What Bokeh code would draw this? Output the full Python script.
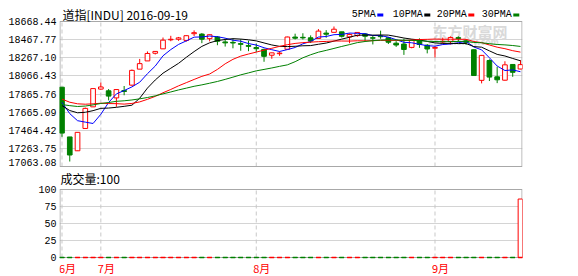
from bokeh.plotting import figure
from bokeh.models import Range1d, FixedTicker, ColumnDataSource
from bokeh.layouts import column
from bokeh.embed import file_html
from bokeh.resources import INLINE
from bokeh.core.properties import value

# ---------------- data ----------------
dates = [
    "2016-06-24", "2016-06-27", "2016-06-28", "2016-06-29", "2016-06-30",
    "2016-07-01", "2016-07-05", "2016-07-06", "2016-07-07", "2016-07-08",
    "2016-07-11", "2016-07-12", "2016-07-13", "2016-07-14", "2016-07-15",
    "2016-07-18", "2016-07-19", "2016-07-20", "2016-07-21", "2016-07-22",
    "2016-07-25", "2016-07-26", "2016-07-27", "2016-07-28", "2016-07-29",
    "2016-08-01", "2016-08-02", "2016-08-03", "2016-08-04", "2016-08-05",
    "2016-08-08", "2016-08-09", "2016-08-10", "2016-08-11", "2016-08-12",
    "2016-08-15", "2016-08-16", "2016-08-17", "2016-08-18", "2016-08-19",
    "2016-08-22", "2016-08-23", "2016-08-24", "2016-08-25", "2016-08-26",
    "2016-08-29", "2016-08-30", "2016-08-31", "2016-09-01", "2016-09-02",
    "2016-09-06", "2016-09-07", "2016-09-08", "2016-09-09", "2016-09-12",
    "2016-09-13", "2016-09-14", "2016-09-15", "2016-09-16", "2016-09-19",
]
open_ = [
    17946.63, 17355.21, 17190.51, 17456.02, 17712.76,
    17924.24, 17904.00, 17819.58, 17906.00, 17971.00,
    18161.37, 18259.12, 18350.39, 18402.57, 18510.00,
    18517.00, 18503.12, 18582.70, 18578.00, 18524.15,
    18543.00, 18485.00, 18480.00, 18465.00, 18442.00,
    18418.00, 18396.00, 18327.00, 18345.00, 18398.00,
    18543.00, 18540.00, 18534.00, 18526.00, 18590.00,
    18599.00, 18605.00, 18545.00, 18560.00, 18580.00,
    18535.00, 18555.00, 18535.00, 18470.00, 18460.00,
    18420.00, 18510.00, 18446.00, 18410.00, 18485.00,
    18492.00, 18536.00, 18498.00, 18392.00, 18028.00,
    18264.00, 18070.00, 18030.00, 18217.00, 18163.00,
]
high = [
    17946.63, 17355.21, 17409.72, 17704.51, 17930.61,
    18002.38, 17925.00, 17918.62, 17961.06, 18157.45,
    18283.04, 18371.95, 18375.40, 18537.30, 18557.80,
    18544.00, 18562.53, 18622.01, 18590.00, 18571.30,
    18555.00, 18526.00, 18523.00, 18517.00, 18500.00,
    18466.00, 18404.00, 18357.00, 18373.00, 18548.00,
    18583.00, 18588.00, 18563.00, 18638.00, 18625.00,
    18668.44, 18605.00, 18586.00, 18601.00, 18590.00,
    18565.00, 18619.00, 18544.00, 18494.00, 18524.00,
    18514.00, 18527.00, 18460.00, 18430.00, 18536.00,
    18550.00, 18552.00, 18518.00, 18395.00, 18330.00,
    18278.00, 18190.00, 18255.00, 18217.00, 18268.00,
]
low = [
    17356.34, 17063.08, 17190.51, 17456.02, 17711.80,
    17916.91, 17790.00, 17713.53, 17850.77, 17964.00,
    18161.37, 18259.12, 18335.58, 18402.57, 18493.30,
    18498.00, 18488.61, 18555.65, 18470.00, 18491.59,
    18446.00, 18430.00, 18409.00, 18380.00, 18375.00,
    18367.00, 18249.00, 18285.00, 18320.00, 18396.00,
    18514.00, 18513.00, 18472.00, 18526.00, 18535.00,
    18599.00, 18537.00, 18469.00, 18545.00, 18495.00,
    18455.00, 18522.00, 18460.00, 18426.00, 18331.00,
    18409.00, 18415.00, 18349.00, 18300.00, 18470.00,
    18454.00, 18485.00, 18452.00, 18085.00, 17992.00,
    18020.00, 17995.00, 18025.00, 18070.00, 18160.00,
]
close = [
    17400.75, 17140.24, 17409.72, 17694.68, 17929.99,
    17949.37, 17840.62, 17918.62, 17895.88, 18146.74,
    18226.93, 18347.67, 18372.12, 18506.41, 18516.55,
    18533.05, 18559.01, 18595.03, 18517.23, 18570.85,
    18493.06, 18473.75, 18472.17, 18456.35, 18432.24,
    18404.51, 18313.77, 18355.00, 18352.05, 18543.53,
    18529.29, 18533.05, 18495.66, 18613.52, 18576.47,
    18636.05, 18552.02, 18573.94, 18597.70, 18552.57,
    18529.42, 18547.30, 18481.48, 18448.41, 18395.40,
    18502.99, 18454.30, 18400.88, 18419.30, 18491.96,
    18538.12, 18526.14, 18479.91, 18085.45, 18325.07,
    18066.75, 18034.77, 18212.48, 18123.80, 18215.00,
]
volume = [
    0, 0, 0, 0, 0, 0, 0, 0, 0, 0,
    0, 0, 0, 0, 0, 0, 0, 0, 0, 0,
    0, 0, 0, 0, 0, 0, 0, 0, 0, 0,
    0, 0, 0, 0, 0, 0, 0, 0, 0, 0,
    0, 0, 0, 0, 0, 0, 0, 0, 0, 0,
    0, 0, 0, 0, 0, 0, 0, 0, 0, 86,
]
# closes of the 29 sessions before the first candle (feed the moving averages)
prior_close = [
    17535.32, 17710.71, 17529.98, 17526.62, 17435.40, 17500.94, 17492.93,
    17706.05, 17851.51, 17828.29, 17873.22, 17787.20, 17789.67, 17838.56,
    17807.06, 17920.33, 17938.28, 18005.05, 17985.19, 17865.34, 17732.48,
    17674.82, 17640.17, 17733.10, 17675.16, 17804.87, 17829.73, 17780.83,
    18011.07,
]
ma_periods = [5, 10, 20, 30]
ma_names = ["5PMA", "10PMA", "20PMA", "30PMA"]
ma_colors = ["#0000FF", "#000000", "#FF0000", "#008000"]
price_tick_labels = ["17063.08", "17263.75", "17464.42", "17665.09", "17865.76",
                     "18066.43", "18267.10", "18467.77", "18668.44"]
volume_ticks = [0, 25, 50, 75, 100]
title_text = "道指[INDU] 2016-09-19"
volume_title = "成交量:100"
watermark = "东方财富网"
watermark_sub = "eastmoney.com"

UP = "#FF0000"
DOWN = "#008000"

# ---------------- derived ----------------
n = len(close)
idx = list(range(n))
all_close = prior_close + close
ma = []
for per in ma_periods:
    vals = []
    for i in range(n):
        j = len(prior_close) + i
        w = all_close[j - per + 1:j + 1]
        vals.append(sum(w) / per)
    ma.append(vals)

up = [c >= o for o, c in zip(open_, close)]
colors = [UP if u else DOWN for u in up]
fills = ["#FFFFFF" if u else DOWN for u in up]
tops = [max(o, c) for o, c in zip(open_, close)]
bots = [min(o, c) for o, c in zip(open_, close)]

month_idx, month_text = [], []
prev = None
for i, d in enumerate(dates):
    m = d[5:7]
    if m != prev:
        month_idx.append(i)
        month_text.append(f"{int(m)}月")
        prev = m

BAR_W = 0.6
src = ColumnDataSource(dict(x=idx, o=open_, h=high, l=low, c=close,
                            top=tops, bot=bots, color=colors, fill=fills,
                            vol=volume, zero=[0] * n,
                            xl=[i - BAR_W / 2 for i in idx],
                            xr=[i + BAR_W / 2 for i in idx]))

# ---------------- layout (pixels) ----------------
W = 578
LEFT, RIGHT = 59, 56
FRAME_W = W - LEFT - RIGHT
H1 = 170                      # top figure: canvas rows 0..170
P_TOP, P_BOT = 21, 166        # price box
H2 = 106                      # bottom figure: canvas rows 170..276
V_TOP, V_BOT = 189, 257       # volume box (canvas rows)

GRID_H = "#D4D4D4"
GRID_V = "#C8C8C8"
BORDER = "#A8A8A8"
TXT_FONT = value("Noto Sans CJK SC")
MONO = value("Liberation Mono")

x_start, x_end = -0.32, n - 1 + 0.26
sx = FRAME_W / (x_end - x_start)
def cx(px_):   # canvas x -> data x
    return x_start + (px_ - LEFT) / sx

lo = float(price_tick_labels[0])
hi = float(price_tick_labels[-1])
pad = (hi - lo) * 5.0 / (P_BOT - P_TOP - 10)
y0, y1 = lo - pad, hi + pad
ppx = (y1 - y0) / (P_BOT - P_TOP)
def cy1(py):   # canvas y -> price
    return y0 + (P_BOT - py) * ppx

vpx = (volume_ticks[-1] - volume_ticks[0]) / (V_BOT - V_TOP)
def cy2(py):   # canvas y -> volume units
    return volume_ticks[0] + (V_BOT - py) * vpx

x_range = Range1d(x_start, x_end)

def style(p):
    p.outline_line_color = None
    p.background_fill_color = "#FFFFFF"
    p.border_fill_color = "#FFFFFF"
    p.xaxis.visible = False
    p.xgrid.visible = False
    p.ygrid.grid_line_color = GRID_H
    ax = p.yaxis[0]
    ax.axis_line_color = None
    ax.major_tick_line_color = None
    ax.minor_tick_line_color = None
    ax.major_tick_out = 0
    ax.major_tick_in = 0
    ax.major_label_standoff = 3
    ax.major_label_text_font = "Liberation Mono"
    ax.major_label_text_font_size = "10px"
    ax.major_label_text_color = "#000000"

def box(p, bottom, top):
    hx = 0.5 / sx
    k = len(month_idx)
    p.segment(x0=month_idx, y0=[bottom] * k, x1=month_idx, y1=[top] * k,
              line_color=GRID_V, line_dash="4 3", line_width=1)
    p.quad(left=[x_start + hx], right=[x_end - hx], bottom=[bottom], top=[top],
           fill_color=None, line_color=BORDER, line_width=1)

# ---------------- main panel ----------------
p1 = figure(width=W, height=H1, x_range=x_range,
            y_range=Range1d(cy1(H1), cy1(0)),
            output_backend="svg", toolbar_location=None,
            min_border_left=LEFT, min_border_right=RIGHT,
            min_border_top=0, min_border_bottom=0)
style(p1)
grid_pos = [y0 + k * (y1 - y0) / 8 for k in range(9)]
label_pos = list(grid_pos)
label_pos[0] = y0 + 4.3 * ppx
p1.ygrid.ticker = FixedTicker(ticks=grid_pos)
p1.yaxis.ticker = FixedTicker(ticks=label_pos)
p1.yaxis.major_label_overrides = {pos: t for pos, t in zip(label_pos, price_tick_labels)}

# watermark (behind everything)
p1.text(x=[cx(432)], y=[cy1(31)], text=[watermark], text_color="#D9D9D9",
        text_font=TXT_FONT, text_font_size="15px", text_font_style="bold",
        text_baseline="middle")
p1.text(x=[cx(428)], y=[cy1(41.5)], text=[watermark_sub], text_color="#DCDCDC",
        text_font=value("DejaVu Sans"), text_font_size="8px", text_font_style="bold",
        text_baseline="middle")

box(p1, y0, y1)

p1.segment(x0="x", y0="l", x1="x", y1="h", line_color="color", line_width=1, source=src)
p1.vbar(x="x", width=BAR_W, top="top", bottom="bot", fill_color="fill",
        line_color="color", line_width=1, source=src)
for vals, col in zip(ma, ma_colors):
    p1.line(idx, vals, line_color=col, line_width=1)

# title
p1.text(x=[cx(62)], y=[cy1(13.5)], text=[title_text], text_font=TXT_FONT,
        text_font_size="12px", text_color="#000000", text_baseline="middle")

# legend: name followed by a small colour bar
leg_left = [351.3, 392.3, 436.3, 481.3]
for name, col, lx in zip(ma_names, ma_colors, leg_left):
    p1.text(x=[cx(lx)], y=[cy1(14)], text=[name], text_font=MONO,
            text_font_size="10px", text_color="#000000", text_baseline="middle")
    mx = lx + len(name) * 6 + 4.5
    p1.rect(x=[cx(mx)], y=[cy1(14.5)], width=6, height=3, width_units="screen",
            height_units="screen", fill_color=col, line_color=None)

# ---------------- volume panel ----------------
p2 = figure(width=W, height=H2, x_range=x_range,
            y_range=Range1d(cy2(H1 + H2), cy2(H1)),
            output_backend="svg", toolbar_location=None,
            min_border_left=LEFT, min_border_right=RIGHT,
            min_border_top=0, min_border_bottom=0)
style(p2)
p2.ygrid.ticker = FixedTicker(ticks=volume_ticks)
p2.yaxis.ticker = FixedTicker(ticks=volume_ticks)

box(p2, volume_ticks[0], volume_ticks[-1])

p2.vbar(x="x", width=BAR_W, top="vol", bottom="zero", fill_color="fill",
        line_color="color", line_width=1, source=src)
# base edge of every volume bar (visible even when the volume is zero)
p2.segment(x0="xl", y0="zero", x1="xr", y1="zero", line_color="color",
           line_width=1.5, source=src)

p2.text(x=[cx(60)], y=[cy2(177.5)], text=[volume_title], text_font=TXT_FONT,
        text_font_size="12px", text_color="#000000", text_baseline="middle")
p2.text(x=month_idx, y=[cy2(267)] * len(month_idx), text=month_text, x_offset=-3,
        text_font=TXT_FONT, text_font_size="11px", text_color="#FF0000",
        text_baseline="middle")

layout = column(p1, p2, spacing=0)
open("out.html", "w").write(file_html(layout, INLINE))
